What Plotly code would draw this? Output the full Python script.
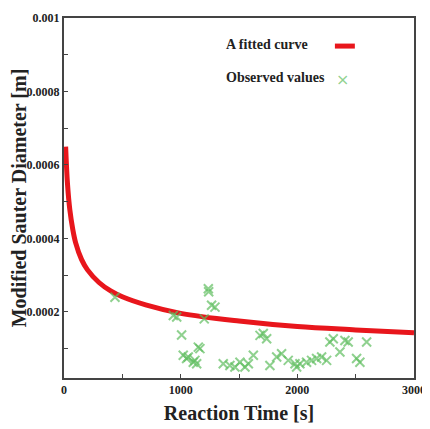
import plotly.graph_objects as go

# Fitted curve
fit_t = [14, 30, 50, 75, 100, 150, 200, 300, 400, 500, 700, 1000, 1500, 2000, 2500, 3000]
fit_d = [0.00065, 0.000548, 0.000478, 0.000425, 0.000388, 0.000343, 0.000315, 0.000280,
         0.000257, 0.000241, 0.000219, 0.000196, 0.000175, 0.000160, 0.000151, 0.000143]

obs_t = [437, 937, 966, 1008, 1022, 1051, 1065, 1108, 1122, 1137, 1151, 1165, 1202, 1237, 1240,
         1265, 1294, 1365, 1422, 1465, 1508, 1551, 1580, 1623, 1680, 1708, 1737, 1765, 1823,
         1865, 1922, 1980, 1994, 2022, 2079, 2122, 2165, 2208, 2251, 2279, 2308, 2365, 2408,
         2436, 2508, 2536, 2594]
obs_d = [0.00024, 0.00019, 0.000186, 0.000137, 0.000082, 0.000073, 0.000077, 0.000063, 0.000068,
         0.000059, 0.000104, 0.0001, 0.000181, 0.000263, 0.000255, 0.000218, 0.000213, 0.000059,
         0.000054, 0.00005, 0.000063, 0.00005, 0.000059, 0.000082, 0.000136, 0.000141, 0.000127,
         0.000054, 0.000077, 0.000086, 0.000068, 0.000059, 0.00005, 0.000059, 0.000063, 0.000068,
         0.000073, 0.000077, 0.000068, 0.000118, 0.000127, 0.000091, 0.000122, 0.000118,
         0.000073, 0.000063, 0.000118]

x_ticks = [0, 1000, 2000, 3000]
y_ticks = [0.0002, 0.0004, 0.0006, 0.0008, 0.001]
y_tick_labels = ["0.0002", "0.0004", "0.0006", "0.0008", "0.001"]

SERIF = "Liberation Serif"
RED = "#e8161c"
GREEN = "rgba(95,190,95,0.7)"

fig = go.Figure()
fig.add_trace(go.Scatter(x=fit_t, y=fit_d, mode="lines", line=dict(color=RED, width=5, shape="spline"),
                         showlegend=False, hoverinfo="skip"))
fig.add_trace(go.Scatter(x=obs_t, y=obs_d, mode="markers",
                         marker=dict(symbol="x-thin-open", size=9, color=GREEN,
                                     line=dict(color=GREEN, width=2)),
                         showlegend=False))

axis_common = dict(showgrid=False, zeroline=False, showline=True, linecolor="#444", linewidth=2,
                   mirror=True, ticks="inside", ticklen=4, tickcolor="#444", automargin=False,
                   tickfont=dict(family=SERIF, size=12, color="#222"))

fig.update_xaxes(range=[0, 3000], tickvals=x_ticks, ticktext=["<b>%d</b>" % v for v in x_ticks],
                 minor=dict(dtick=500, ticks="inside", ticklen=4, tickcolor="#444"),
                 title=dict(text="<b>Reaction Time [s]</b>", font=dict(family=SERIF, size=20, color="#222"),
                            standoff=10),
                 **axis_common)
fig.update_yaxes(range=[0.00002, 0.001], tickvals=y_ticks, ticktext=["<b>%s</b>" % s for s in y_tick_labels],
                 minor=dict(tickvals=[0.0001, 0.0003, 0.0005, 0.0007, 0.0009], ticks="inside",
                            ticklen=4, tickcolor="#444"),
                 title=dict(text="<b>Modified Sauter Diameter [m]</b>",
                            font=dict(family=SERIF, size=20, color="#222"), standoff=3),
                 **axis_common)

# Legend (text left, sample right)
fig.add_annotation(xref="paper", yref="paper", x=0.703, y=0.925, xanchor="right", yanchor="middle",
                   text="<b>A fitted curve</b>", showarrow=False,
                   font=dict(family=SERIF, size=14, color="#222"))
fig.add_annotation(xref="paper", yref="paper", x=0.751, y=0.836, xanchor="right", yanchor="middle",
                   text="<b>Observed values</b>", showarrow=False,
                   font=dict(family=SERIF, size=14, color="#222"))
fig.add_shape(type="line", xref="paper", yref="paper", x0=0.774, x1=0.831, y0=0.922, y1=0.922,
              line=dict(color=RED, width=5))
fig.add_annotation(xref="paper", yref="paper", x=0.797, y=0.828, xanchor="center", yanchor="middle",
                   text="×", showarrow=False, font=dict(family="DejaVu Sans", size=16, color=GREEN))

fig.update_layout(width=422, height=421, margin=dict(l=56, r=16, t=10, b=51),
                  paper_bgcolor="white", plot_bgcolor="white", showlegend=False)

fig.write_html("out.html")
